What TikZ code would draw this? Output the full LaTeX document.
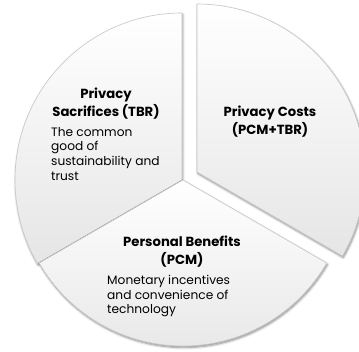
\documentclass[tikz,border=0pt]{standalone}
\usepackage{fontspec}
\setmainfont{Poppins}
\usetikzlibrary{shadows.blur}
\begin{document}
\begin{tikzpicture}[x=1pt,y=1pt,
  sector/.style={draw=black!22, line width=0.6pt,
    top color=white, bottom color=black!10,
    blur shadow={shadow xshift=0.8pt, shadow yshift=-1.6pt,
      shadow blur steps=6, shadow opacity=45, shadow blur radius=2.2pt}},
  heading/.style={font=\bfseries\fontsize{13.2}{17.5}\selectfont, align=center,
    inner sep=0pt, anchor=north},
  body/.style={font=\fontsize{12.2}{14.6}\selectfont, align=left,
    inner sep=0pt, anchor=north west}]
\useasboundingbox (0,0) rectangle (359,351);
\begin{scope}
\clip (0,0) rectangle (359,351);
% left slice
\path[sector] (182,171) -- ++(90:167) arc (90:210:167) -- cycle;
% bottom slice
\path[sector] (183,171) -- ++(210:166) arc (210:330:166) -- cycle;
% exploded right slice
\path[sector] (197,179) -- ++(-30:168) arc (-30:90:168) -- cycle;
\end{scope}

\node[heading] (sacT) at (106,263) {Privacy\\Sacrifices (TBR)};
\node[body] (sacB) at (51,224) {The common\\good of\\sustainability and\\trust};
\node[heading] (costT) at (270,245) {Privacy Costs\\(PCM+TBR)};
\node[heading] (benT) at (182,115) {Personal Benefits\\(PCM)};
\node[body] (benB) at (107,76) {Monetary incentives\\and convenience of\\technology};
\end{tikzpicture}
\end{document}
